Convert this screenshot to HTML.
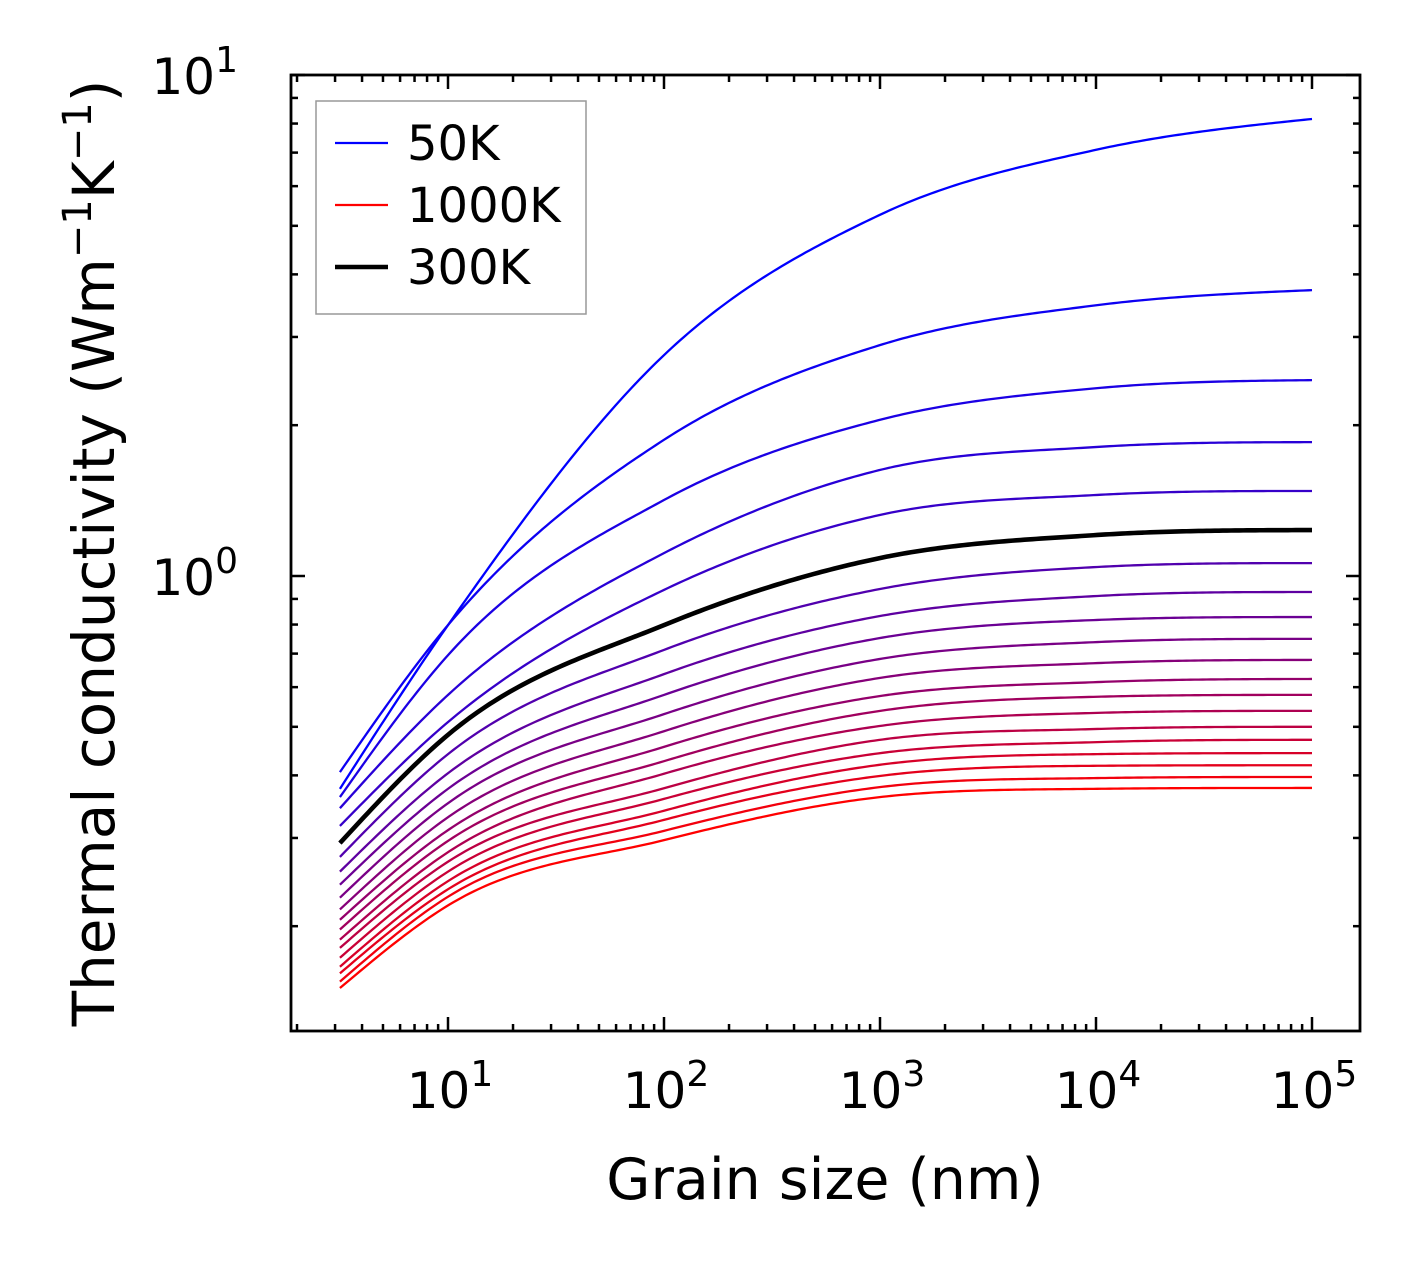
<!DOCTYPE html>
<html><head><meta charset="utf-8"><style>
html,body{margin:0;padding:0;background:#fff;}
svg text{font-family:"DejaVu Sans","Liberation Sans",sans-serif;fill:#000;}
</style></head><body>
<svg id="chart" width="1421" height="1270" viewBox="0 0 1421 1270" xmlns="http://www.w3.org/2000/svg">
<g id="curves"></g>
<g id="ticks"></g>
<rect x="291" y="75" width="1069" height="956" fill="none" stroke="#000" stroke-width="2.8"/>
<g id="labels"></g>
<text x="825" y="1199" font-size="57" text-anchor="middle">Grain size (nm)</text>
<text transform="translate(114,553) rotate(-90)" font-size="58" text-anchor="middle">Thermal conductivity (Wm<tspan dy="-23" font-size="40">−1</tspan><tspan dy="23">K</tspan><tspan dy="-23" font-size="40">−1</tspan><tspan dy="23">)</tspan></text>
<g>
<rect x="316" y="101" width="270" height="213" fill="#fff" stroke="#999" stroke-width="1.5"/>
<line x1="335" y1="143" x2="388" y2="143" stroke="#0000ff" stroke-width="2.2"/>
<text x="407" y="160" font-size="48">50K</text>
<line x1="335" y1="205" x2="388" y2="205" stroke="#ff0000" stroke-width="2.2"/>
<text x="407" y="222" font-size="48">1000K</text>
<line x1="335" y1="267" x2="388" y2="267" stroke="#000" stroke-width="4.5"/>
<text x="407" y="284" font-size="48">300K</text>
</g>
</svg>
<script>
const grainSizes = [3.16, 10, 100, 1000, 10000, 100000];
const temperatures = [50,100,150,200,250,300,350,400,450,500,550,600,650,700,750,800,850,900,950,1000];
const k50 = [0.376, 0.798, 2.76, 5.26, 7.09, 8.17];
const k100 = [0.406, 0.798, 1.87, 2.89, 3.47, 3.72];
const k150 = [0.362, 0.695, 1.418, 2.05, 2.37, 2.46];
const k200 = [0.344, 0.579, 1.111, 1.628, 1.809, 1.85];
const k250 = [0.317, 0.511, 0.938, 1.324, 1.451, 1.478];
const k300 = [0.293, 0.482, 0.798, 1.086, 1.207, 1.235];
const k350 = [0.275, 0.441, 0.712, 0.942, 1.042, 1.061];
const k400 = [0.257, 0.404, 0.637, 0.832, 0.912, 0.929];
const k450 = [0.242, 0.376, 0.579, 0.752, 0.817, 0.828];
const k500 = [0.228, 0.352, 0.530, 0.683, 0.738, 0.749];
const k550 = [0.216, 0.330, 0.490, 0.626, 0.670, 0.680];
const k600 = [0.206, 0.311, 0.456, 0.576, 0.614, 0.623];
const k650 = [0.197, 0.296, 0.427, 0.538, 0.574, 0.579];
const k700 = [0.188, 0.281, 0.403, 0.502, 0.533, 0.538];
const k750 = [0.181, 0.269, 0.377, 0.471, 0.495, 0.500];
const k800 = [0.173, 0.257, 0.359, 0.443, 0.466, 0.471];
const k850 = [0.166, 0.246, 0.340, 0.420, 0.441, 0.443];
const k900 = [0.161, 0.237, 0.326, 0.399, 0.418, 0.419];
const k950 = [0.155, 0.229, 0.310, 0.379, 0.395, 0.397];
const k1000 = [0.1505, 0.220, 0.297, 0.362, 0.376, 0.3775];
const series = [k50,k100,k150,k200,k250,k300,k350,k400,k450,k500,k550,k600,k650,k700,k750,k800,k850,k900,k950,k1000];
const xTickLabels = ["1","2","3","4","5"];
const yTickLabels = ["0","1"];

const NS="http://www.w3.org/2000/svg";
const X0=448, XD=216, Y0=576, YD=501;
function xs(v){return X0+(Math.log10(v)-1)*XD;}
function ys(v){return Y0-Math.log10(v)*YD;}

function mono(xa,ya){
  const n=xa.length, d=[], m=new Array(n);
  for(let i=0;i<n-1;i++) d.push((ya[i+1]-ya[i])/(xa[i+1]-xa[i]));
  for(let i=1;i<n-1;i++){
    if(d[i-1]*d[i]<=0){m[i]=0;continue;}
    const h0=xa[i]-xa[i-1], h1=xa[i+1]-xa[i];
    m[i]=(h0*d[i]+h1*d[i-1])/(h0+h1);
  }
  m[0]=Math.max(0,1.5*d[0]-0.5*m[1]);
  m[n-1]=Math.max(0,1.5*d[n-2]-0.5*m[n-2]);
  for(let i=0;i<n-1;i++){ if(d[i]===0){m[i]=0;m[i+1]=0;continue;}
    const a=m[i]/d[i], b=m[i+1]/d[i], s=a*a+b*b;
    if(s>9){const t=3/Math.sqrt(s); m[i]=t*a*d[i]; m[i+1]=t*b*d[i];}}
  return function(x){
    let i=0; while(i<n-2 && x>xa[i+1]) i++;
    const h=xa[i+1]-xa[i], t=(x-xa[i])/h, t2=t*t, t3=t2*t;
    return (2*t3-3*t2+1)*ya[i]+(t3-2*t2+t)*h*m[i]+(-2*t3+3*t2)*ya[i+1]+(t3-t2)*h*m[i+1];
  };
}

const cg=document.getElementById('curves');
const lx=grainSizes.map(Math.log10);
function drawCurve(vals,color,w,name){
  const f=mono(lx,vals.map(Math.log10));
  let d="";
  for(let k=0;k<=240;k++){
    const l=lx[0]+(lx[lx.length-1]-lx[0])*k/240;
    const px=xs(Math.pow(10,l)), py=ys(Math.pow(10,f(l)));
    d+=(k?"L":"M")+px.toFixed(2)+","+py.toFixed(2);
  }
  const p=document.createElementNS(NS,'path');
  p.setAttribute('d',d); p.setAttribute('fill','none');
  p.setAttribute('stroke',color); p.setAttribute('stroke-width',w);
  p.setAttribute('stroke-linejoin','round');
  
  
  cg.appendChild(p);
}
series.forEach((s,i)=>{
  const t=(temperatures[i]-50)/950;
  drawCurve(s,`rgb(${Math.round(255*t)},0,${Math.round(255*(1-t))})`,2.3,'curve-'+temperatures[i]+'k');
});
drawCurve(k300,'#000',4.6,'curve-300k-highlight');

const tg=document.getElementById('ticks');
function tick(x1,y1,x2,y2,name){
  const l=document.createElementNS(NS,'line');
  l.setAttribute('x1',x1);l.setAttribute('y1',y1);l.setAttribute('x2',x2);l.setAttribute('y2',y2);
  l.setAttribute('stroke','#000');l.setAttribute('stroke-width',2.5);
  
  
  tg.appendChild(l);
}
for(let e=0;e<=5;e++){for(let m=1;m<=9;m++){
  const v=m*Math.pow(10,e), px=xs(v);
  if(px<292||px>1359) continue;
  const L=m===1?14:7;
  tick(px,1031,px,1031-L,'x-tick');
  tick(px,75,px,75+L,'x-tick-top');
}}
for(let e=-1;e<=0;e++){for(let m=1;m<=9;m++){
  const v=m*Math.pow(10,e), py=ys(v);
  if(py>1030||py<76) continue;
  const L=m===1?14:7;
  tick(291,py,291+L,py,'y-tick');
  tick(1360,py,1360-L,py,'y-tick-right');
}}
tick(291,75,305,75,'y-tick'); tick(1360,75,1346,75,'y-tick-right');

const lg=document.getElementById('labels');
function label(x,y,exp,anchor,name){
  const t=document.createElementNS(NS,'text');
  t.setAttribute('x',x);t.setAttribute('y',y);t.setAttribute('font-size','50');
  t.setAttribute('text-anchor',anchor);
  t.innerHTML='10<tspan dy="-22" font-size="36">'+exp+'</tspan>';
  
  
  lg.appendChild(t);
}
xTickLabels.forEach((s,i)=>label(xs(Math.pow(10,i+1))+2,1108,s,'middle','x-tick-label'));
yTickLabels.forEach((s,i)=>label(238,ys(Math.pow(10,i))+19,s,'end','y-tick-label'));
</script>
</body></html>
